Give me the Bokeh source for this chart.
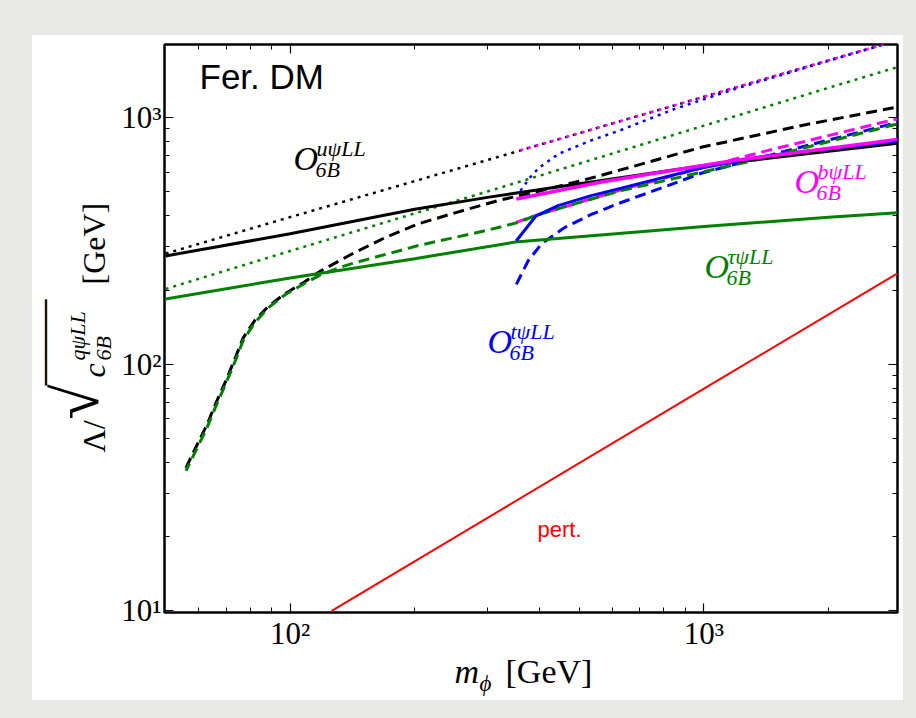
import math
from bokeh.plotting import figure
from bokeh.models import Label, LogAxis, FixedTicker, CustomJSTickFormatter, Range1d
from bokeh.layouts import column, row
from bokeh.embed import file_html
from bokeh.resources import INLINE

# ---------------- data ----------------
x_ticks = [100, 1000]
x_minor = [60, 70, 80, 90, 200, 300, 400, 500, 600, 700, 800, 900, 2000]
y_ticks = [10, 100, 1000]
y_minor = [20, 30, 40, 50, 60, 70, 80, 90, 200, 300, 400, 500, 600, 700, 800, 900]

# u (black)
u_solid_x = [50, 100, 200, 300, 500, 1000, 2000, 2935]
u_solid_y = [275, 338, 425, 475, 540, 640, 730, 787]
u_dash_x = [56, 59.7, 63, 66, 70, 74, 77, 82, 88, 97, 108, 118, 141, 170, 204, 245, 318, 405, 543, 984, 1713, 2935]
u_dash_y = [38, 47.5, 57, 69, 86, 108, 128, 150, 170, 193, 215, 238, 280, 327, 371, 407, 461, 506, 573, 758, 928, 1105]
u_dot_x = [50, 100, 200, 350, 1000, 2000, 3000]
u_dot_y = [281, 395, 553, 726, 1216, 1708, 2082]

# tau (green)
tau_solid_x = [50, 100, 200, 350, 1000, 2000, 2935]
tau_solid_y = [184, 224, 268, 313, 362, 395, 412]
tau_dash_x = [56, 59.7, 63, 66, 70, 74, 77, 82, 88, 97, 108, 118, 132, 141, 204, 296, 356, 390, 487, 631, 984, 1422, 2935]
tau_dash_y = [37, 46, 55.5, 67, 84, 105, 125, 147, 168, 191, 212, 230, 247, 256, 303, 348, 376, 400, 447, 506, 600, 690, 943]
tau_dot_x = [50, 100, 200, 350, 1000, 2000, 3000]
tau_dot_y = [202, 288, 409, 543, 928, 1321, 1622]

# t (blue)
t_solid_x = [352, 393, 444, 534, 631, 984, 1422, 2935]
t_solid_y = [317, 400, 440, 483, 518, 625, 701, 805]
t_dash_x = [352, 376, 405, 461, 534, 620, 818, 984, 1422, 2935]
t_dash_y = [211, 263, 308, 359, 405, 448, 530, 595, 700, 957]
t_dot_x = [360, 380, 400, 445, 530, 630, 850, 1200, 2000, 3000]
t_dot_y = [505, 573, 628, 713, 805, 891, 1085, 1315, 1700, 2080]

# b (magenta)
b_solid_x = [352, 565, 800, 1183, 2935]
b_solid_y = [468, 548, 603, 670, 815]
b_dash_x = [352, 390, 487, 631, 984, 1422, 2935]
b_dash_y = [376, 400, 447, 510, 625, 735, 990]
b_dot_x = [352, 1000, 2000, 3000]
b_dot_y = [729, 1216, 1708, 2082]

# perturbativity (red)
pert_x = [126, 1000, 2935]
pert_y = [10, 79.6, 233.6]

BLACK, GREEN, BLUE, MAG, RED = "#000000", "#008000", "#0000ff", "#ff00ff", "#ff0000"
SERIF = "Liberation Serif"

# ---------------- layout geometry (page pixels) ----------------
CARD_L, CARD_T, CARD_R, CARD_B = 32, 35, 903, 700
FR_L, FR_T, FR_R, FR_B = 162, 44, 897, 612     # plot frame
LEFT_BORDER = 44
SPLIT_X = FR_L - LEFT_BORDER                     # y-label strip | main figure
SPLIT_Y = 654                                    # main figure | x-label strip

# ---------------- main figure ----------------
p = figure(x_axis_type="log", y_axis_type="log",
           x_range=(49.7, 2935), y_range=(9.85, 1980),
           width=CARD_R - SPLIT_X, height=SPLIT_Y - CARD_T,
           min_border_left=LEFT_BORDER, min_border_right=CARD_R - FR_R,
           min_border_top=FR_T - CARD_T, min_border_bottom=SPLIT_Y - FR_B,
           output_backend="svg", toolbar_location=None, title=None,
           background_fill_color="white", border_fill_color="white")
p.grid.visible = False
p.outline_line_color = "black"
p.outline_line_width = 2.5

sup = CustomJSTickFormatter(code="""
const m = {"1":"\u00b9","2":"\u00b2","3":"\u00b3"};
return "10" + m[String(Math.round(Math.log10(tick)))];
""")
blank = CustomJSTickFormatter(code="return '';")

def style_axis(ax, ticks, minor, labels=True):
    ax.ticker = FixedTicker(ticks=ticks, minor_ticks=minor)
    ax.major_tick_in = 9
    ax.major_tick_out = 0
    ax.minor_tick_in = 5
    ax.minor_tick_out = 0
    ax.major_tick_line_width = 1.2
    ax.minor_tick_line_width = 1
    ax.axis_line_color = None
    if labels:
        ax.formatter = sup
        ax.major_label_text_font = SERIF
        ax.major_label_text_font_size = "31px"
        ax.major_label_text_color = "black"
        ax.major_label_standoff = 3
    else:
        ax.formatter = blank
        ax.major_label_standoff = 0
        ax.major_label_text_font_size = "1px"

style_axis(p.xaxis[0], x_ticks, x_minor)
style_axis(p.yaxis[0], y_ticks, y_minor)
top_ax = LogAxis()
right_ax = LogAxis()
style_axis(top_ax, x_ticks, x_minor, labels=False)
style_axis(right_ax, y_ticks, y_minor, labels=False)
p.add_layout(top_ax, "above")
p.add_layout(right_ax, "right")

DASH = "11 6"
DOT = "3 5"

p.line(pert_x, pert_y, color=RED, line_width=2)
p.line(u_dot_x, u_dot_y, color=BLACK, line_width=2.5, line_dash=DOT)
p.line(tau_dot_x, tau_dot_y, color=GREEN, line_width=2.5, line_dash=DOT)
p.line(t_dot_x, t_dot_y, color=BLUE, line_width=2.5, line_dash=DOT)
p.line(b_dot_x, b_dot_y, color=MAG, line_width=2.5, line_dash=DOT, line_dash_offset=4)
p.line(u_dash_x, u_dash_y, color=BLACK, line_width=3, line_dash=DASH)
p.line(t_dash_x, t_dash_y, color=BLUE, line_width=3, line_dash=DASH)
p.line(b_dash_x, b_dash_y, color=MAG, line_width=3, line_dash=DASH)
p.line(tau_dash_x, tau_dash_y, color=GREEN, line_width=3, line_dash=DASH, line_dash_offset=3)
p.line(u_solid_x, u_solid_y, color=BLACK, line_width=3)
p.line(tau_solid_x, tau_solid_y, color=GREEN, line_width=3)
p.line(t_solid_x, t_solid_y, color=BLUE, line_width=3)
p.line(b_solid_x, b_solid_y, color=MAG, line_width=3.5)

SHIFT = 0.4  # empirical: rendered text sits this many em below the requested baseline

def make_label(fig, origin, text, px, py, size, color="black", style="normal",
               font=SERIF, angle=0.0):
    ox, oy = origin
    if angle == 0.0:
        py = py - SHIFT * size
    else:
        px = px - SHIFT * size
    fig.add_layout(Label(x=px - ox, y=oy - py, x_units="screen", y_units="screen",
                         text=text, text_font_size=f"{size}px", text_color=color,
                         text_font_style=style, text_font=font, angle=angle,
                         text_align="left", text_baseline="alphabetic"))

MAIN_O = (FR_L, FR_B)
make_label(p, MAIN_O, "Fer. DM", 197, 90, 35, font="Liberation Sans")
make_label(p, MAIN_O, "pert.", 535, 538, 22, color=RED, font="Liberation Sans")

def oper(sup_txt, px, py, color):
    make_label(p, MAIN_O, "O", px, py, 34, color=color, style="italic")
    make_label(p, MAIN_O, sup_txt, px + 23, py - 15, 22, color=color, style="italic")
    make_label(p, MAIN_O, "6B", px + 22, py + 6, 22, color=color, style="italic")

oper("u\u03c8LL", 291, 172, BLACK)
oper("t\u03c8LL", 485, 355, BLUE)
oper("\u03c4\u03c8LL", 702, 280, GREEN)
oper("b\u03c8LL", 792, 195, MAG)

# ---------------- text strips ----------------
def strip(w, h):
    f = figure(width=w, height=h, x_range=Range1d(0, 1), y_range=Range1d(0, 1),
               x_axis_location=None, y_axis_location=None,
               min_border=0, output_backend="svg", toolbar_location=None, title=None,
               background_fill_color="white", border_fill_color="white")
    f.grid.visible = False
    f.outline_line_color = None
    return f

# x label: m_phi [GeV]   (strip frame is aligned with the main frame by the column)
xf = strip(CARD_R - SPLIT_X, CARD_B - SPLIT_Y)
XO = (FR_L, CARD_B)
make_label(xf, XO, "m", 452, 685, 34, style="italic")
make_label(xf, XO, "\u03d5", 477, 692, 23, style="italic")
make_label(xf, XO, "[GeV]", 503, 685, 34)

# y label: Lambda / sqrt(c_6B^{q psi LL}) [GeV]   (rotated, reads bottom to top)
yf = strip(SPLIT_X - CARD_L, CARD_B - CARD_T)
YO = (CARD_L, CARD_B)
R = math.pi / 2
make_label(yf, YO, "\u039b/", 106, 452, 32, angle=R)
make_label(yf, YO, "\u221a", 102, 419, 64, angle=R)
make_label(yf, YO, "\u2594" * 8, 58, 385, 14, font="DejaVu Sans", angle=R)
make_label(yf, YO, "c", 106, 377, 32, style="italic", angle=R)
make_label(yf, YO, "q\u03c8LL", 86, 360, 22, style="italic", angle=R)
make_label(yf, YO, "6B", 112, 360, 22, style="italic", angle=R)
make_label(yf, YO, "[GeV]", 106, 284, 32, angle=R)

inner = row(yf, column(p, xf), margin=(CARD_T, 916 - CARD_R, 718 - CARD_B, CARD_L),
            styles={"background-color": "white"})
layout = column(inner, width=916, height=718, sizing_mode="fixed",
                styles={"background-color": "#e8e8e6"})

open("out.html", "w").write(file_html(layout, INLINE, "chart"))
